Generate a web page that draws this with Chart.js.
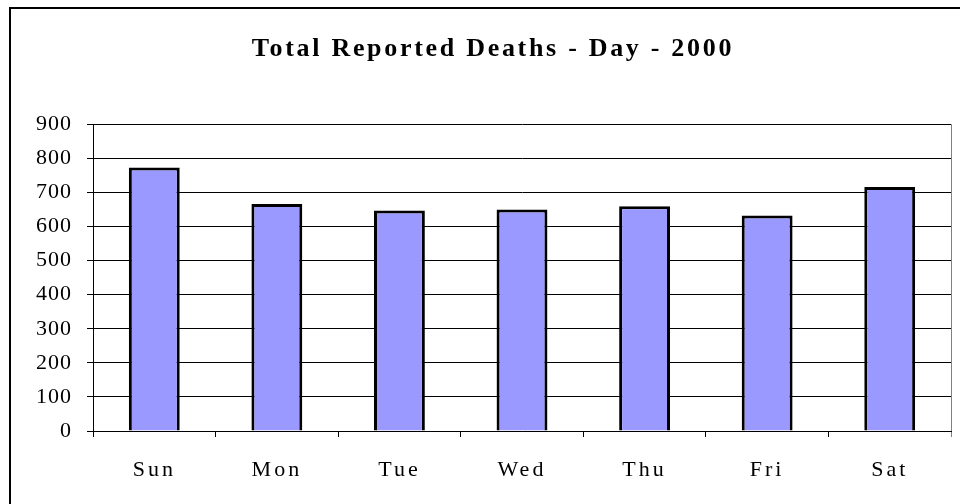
<!DOCTYPE html>
<html>
<head>
<meta charset="utf-8">
<script src="https://cdn.jsdelivr.net/npm/chart.js@4.4.1/dist/chart.umd.min.js"></script>
<style>
  html, body { margin: 0; padding: 0; background: #fff; }
  #wrap { width: 960px; height: 504px; }
</style>
</head>
<body>
<div id="wrap"><canvas id="chart-deaths"></canvas></div>
<script>
// Grafico de barras - mortes por dia da semana
const days = ["Sun", "Mon", "Tue", "Wed", "Thu", "Fri", "Sat"];
const deaths = [773, 666, 647, 650, 659, 632, 716];
const yTicks = [0, 100, 200, 300, 400, 500, 600, 700, 800, 900];

const serif = "'Liberation Serif', 'Times New Roman', serif";

// espacamento entre letras (o canvas suporta ctx.letterSpacing)
const withSpacing = (el, method, spacing) => {
  if (!el || el["_sp_" + method]) return;
  const orig = el[method];
  el[method] = function (...args) {
    const ctx = this.ctx;
    ctx.save();
    ctx.letterSpacing = spacing;
    orig.apply(this, args);
    ctx.restore();
  };
  el["_sp_" + method] = true;
};

const spacingPlugin = {
  id: "spacing",
  afterLayout(chart) {
    withSpacing(chart.scales.x, "drawLabels", "3px");
    withSpacing(chart.scales.y, "drawLabels", "1px");
    withSpacing(chart.titleBlock, "draw", "2.7px");
  },
};

// moldura externa (so topo e esquerda aparecem)
const frame = {
  id: "frame",
  beforeDraw(chart) {
    const ctx = chart.ctx;
    ctx.save();
    ctx.strokeStyle = "#000";
    ctx.lineWidth = 2;
    ctx.strokeRect(10, 8, 1000, 1000);
    ctx.restore();
  },
};

const ctx = document.getElementById("chart-deaths").getContext("2d");
new Chart(ctx, {
  type: "bar",
  data: {
    labels: days,
    datasets: [
      {
        label: "Deaths",
        data: deaths,
        backgroundColor: "#9999FF",
        borderColor: "#000",
        borderWidth: 3,
        categoryPercentage: 1,
        barPercentage: 0.415,
      },
    ],
  },
  options: {
    responsive: true,
    maintainAspectRatio: false,
    animation: false,
    layout: {
      padding: { left: 35, right: 9, top: 0, bottom: 0 },
    },
    plugins: {
      legend: { display: false },
      tooltip: { enabled: false },
      title: {
        display: true,
        text: "Total Reported Deaths - Day - 2000",
        color: "#000",
        font: { family: serif, size: 26, weight: "bold" },
        padding: { top: 34, bottom: 59 },
      },
    },
    scales: {
      x: {
        offset: true,
        afterFit: (scale) => {
          scale.height = 73;
        },
        grid: {
          offset: true,
          drawOnChartArea: true,
          // so a ultima linha (borda direita) fica visivel
          color: (c) => (c.type === "scale" ? "#808080" : "rgba(0,0,0,0)"),
          tickColor: (c) => (c.type === "scale" ? "#808080" : "#000"),
          tickLength: 6,
        },
        border: { color: "#000", width: 1 },
        ticks: {
          color: "#000",
          padding: 20,
          font: { family: serif, size: 22 },
        },
      },
      y: {
        min: 0,
        max: 900,
        afterFit: (scale) => {
          scale.width = 58;
        },
        afterBuildTicks: (scale) => {
          scale.ticks = yTicks.map((v) => ({ value: v }));
        },
        grid: {
          color: "#000",
          tickColor: "#000",
          tickLength: 6,
        },
        border: { color: "#000", width: 1 },
        ticks: {
          color: "#000",
          padding: 15,
          font: { family: serif, size: 22 },
        },
      },
    },
  },
  plugins: [frame, spacingPlugin],
});
</script>
</body>
</html>
